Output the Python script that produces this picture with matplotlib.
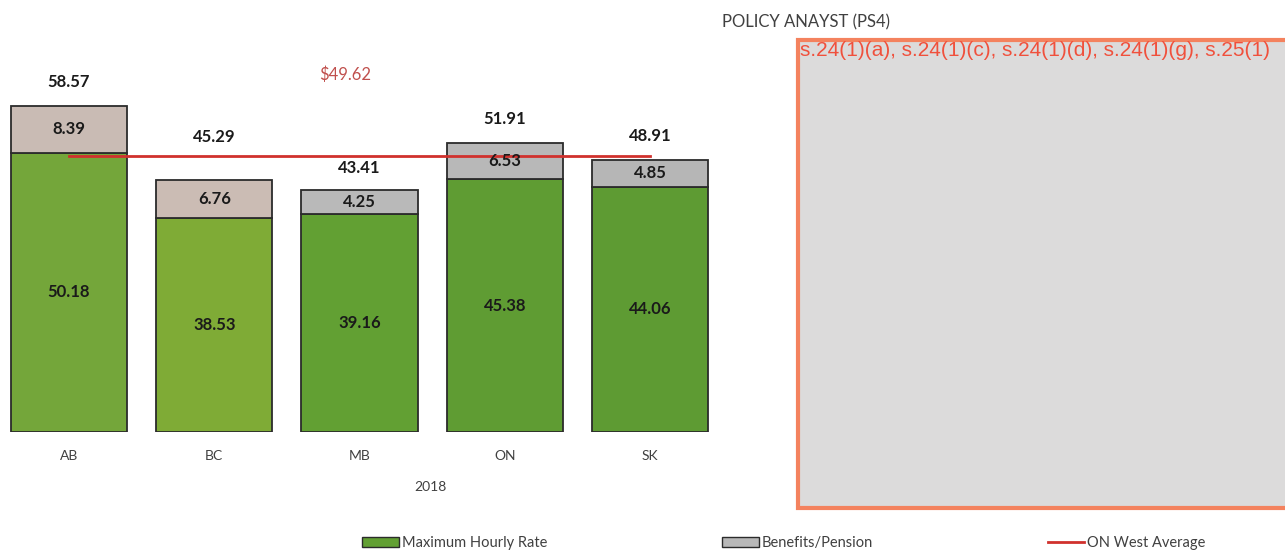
import matplotlib.pyplot as plt
from matplotlib.patches import Patch, Rectangle
from matplotlib.lines import Line2D

plt.rcParams['font.family'] = ['Lato', 'DejaVu Sans']

provinces = ["AB", "BC", "MB", "ON", "SK"]
max_rate = [50.18, 38.53, 39.16, 45.38, 44.06]
benefits = [8.39, 6.76, 4.25, 6.53, 4.85]
totals = [58.57, 45.29, 43.41, 51.91, 48.91]
on_west_avg = 49.62

green_cols = ["#74a63a", "#7fab36", "#62a033", "#5f9c33", "#5e9b33"]
ben_cols = ["#c9bbb4", "#cbbcb4", "#b9b9b9", "#b8b8b8", "#b6b6b6"]
total_offsets = [17, 31, 16, 17, 17]

fig = plt.figure(figsize=(12.85, 5.5), dpi=100)
ax = fig.add_axes([0, 1 - 432 / 550, 720 / 1285, (432 - 60) / 550])

x = list(range(len(provinces)))
ax.bar(x, max_rate, width=0.8, color=green_cols, edgecolor="#2b2b2b", linewidth=1.3)
ax.bar(x, benefits, bottom=max_rate, width=0.8, color=ben_cols, edgecolor="#2b2b2b", linewidth=1.3)
ax.plot(x, [on_west_avg] * len(x), color="#d0312d", linewidth=2)

for i in x:
    ax.text(i, max_rate[i] / 2, f"{max_rate[i]:.2f}", ha="center", va="center",
            fontsize=12, fontweight="bold", color="#1a1a1a")
    ax.text(i, max_rate[i] + benefits[i] / 2, f"{benefits[i]:.2f}", ha="center", va="center",
            fontsize=12, fontweight="bold", color="#1a1a1a")
    ax.annotate(f"{totals[i]:.2f}", (i, totals[i]), xytext=(0, total_offsets[i]),
                textcoords="offset points", ha="center", va="center",
                fontsize=12, fontweight="bold", color="#1a1a1a")

ax.set_xlim(-69 / 145.3, (720 - 69) / 145.3)
ax.set_ylim(0, (432 - 60) / 5.566)
ax.set_xticks(x)
ax.set_xticklabels(provinces, fontsize=10, color="#404040")
ax.tick_params(axis="x", length=0, pad=13)
ax.set_yticks([])
for s in ax.spines.values():
    s.set_visible(False)

fig.text(430 / 1285, 1 - 487 / 550, "2018", ha="center", va="center", fontsize=10, color="#404040")
fig.text(345 / 1285, 1 - 75 / 550, "$49.62", ha="center", va="center", fontsize=12,
         color="#c0504d")
fig.text(806 / 1285, 1 - 22 / 550, "POLICY ANAYST (PS4)", ha="center", va="center",
         fontsize=12, color="#404040")

# redaction box
box = Rectangle((798 / 1285, 1 - 508 / 550), (1300 - 798) / 1285, (508 - 40) / 550,
                transform=fig.transFigure, facecolor="#dcdbdb", edgecolor="#f4825e", linewidth=3)
fig.patches.append(box)
fig.text(800 / 1285, 1 - 51 / 550, "s.24(1)(a), s.24(1)(c), s.24(1)(d), s.24(1)(g), s.25(1)",
         ha="left", va="center", fontsize=15, color="#f0503c", family="Liberation Sans")

handles = [Patch(facecolor="#62a033", edgecolor="#2b2b2b"),
           Patch(facecolor="#b8b8b8", edgecolor="#2b2b2b"),
           Line2D([0], [0], color="#d0312d", linewidth=2)]
fig.legend(handles, ["Maximum Hourly Rate", "Benefits/Pension", "ON West Average"],
           loc="center", bbox_to_anchor=(784 / 1285, 1 - 543 / 550), ncol=3, frameon=False,
           fontsize=10.5, handlelength=2.5, handleheight=0.7, handletextpad=0.2, columnspacing=12,
           labelcolor="#404040")

fig.savefig("out.png", dpi=100)
